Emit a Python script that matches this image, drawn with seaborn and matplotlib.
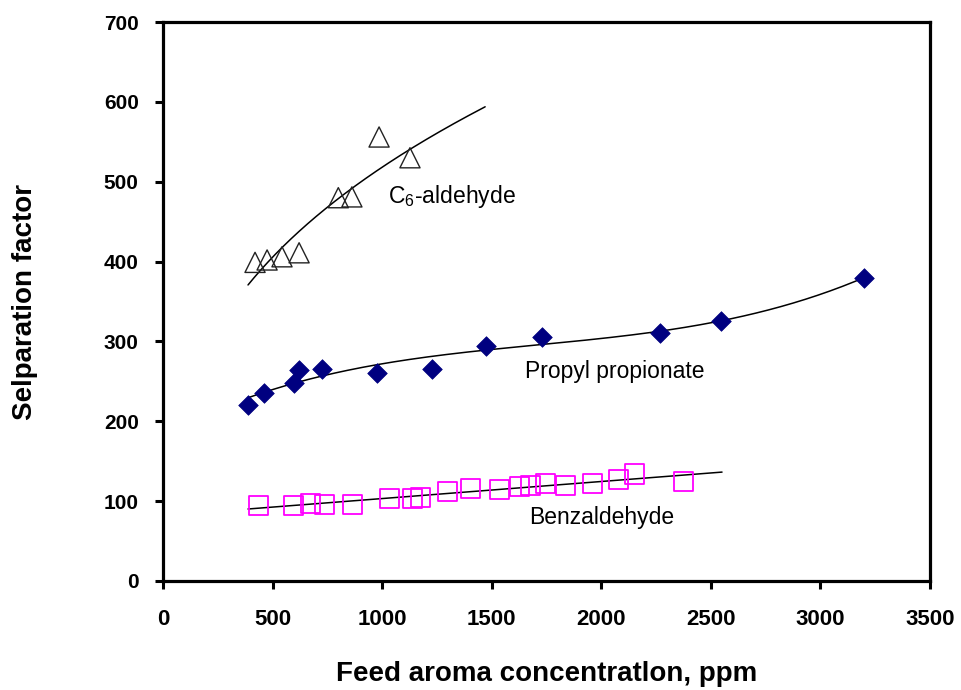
import numpy as np
import pandas as pd
import matplotlib
matplotlib.use("Agg")
import matplotlib.pyplot as plt
import seaborn as sns

# ---- data ----
c6_x = [420, 475, 543, 621, 800, 862, 986, 1127]
c6_y = [399, 402, 406, 411, 480, 481, 556, 530]

pp_x = [389, 463, 598, 622, 725, 976, 1227, 1473, 1731, 2268, 2547, 3200]
pp_y = [220, 236, 248, 264, 266, 261, 266, 294, 305, 310, 326, 380]

bz_x = [435, 595, 672, 737, 864, 1033, 1140, 1173, 1300, 1401, 1534,
        1626, 1675, 1744, 1835, 1958, 2078, 2150, 2374]
bz_y = [94, 94, 97, 96, 96, 103, 103, 105, 112, 116, 115,
        118, 119, 122, 120, 122, 127, 134, 125]

# trend-line x ranges (Excel-style trendlines with forecast)
c6_range = (388, 1470)
pp_range = (389, 3200)
bz_range = (388, 2551)

x_ticks = [0, 500, 1000, 1500, 2000, 2500, 3000, 3500]
y_ticks = [0, 100, 200, 300, 400, 500, 600, 700]

sns.set_theme(style="white")
plt.rcParams['font.family'] = ['Liberation Sans', 'DejaVu Sans']
plt.rcParams['mathtext.fontset'] = 'custom'
plt.rcParams['mathtext.rm'] = 'Liberation Sans'
plt.rcParams['mathtext.it'] = 'Liberation Sans'
for k in ['text.color', 'axes.labelcolor', 'xtick.color', 'ytick.color', 'axes.edgecolor']:
    plt.rcParams[k] = 'black'

fig = plt.figure(figsize=(9.61, 6.90), dpi=100)
ax = fig.add_axes([163/961, 1 - 581/690, (930-163)/961, (581-22)/690])

# ---- trend lines (fits computed from the data) ----
# power fit for C6-aldehyde
p_c6 = np.polyfit(np.log(c6_x), np.log(c6_y), 1)
xx = np.linspace(*c6_range, 200)
df_c6 = pd.DataFrame({"x": xx, "y": np.exp(np.polyval(p_c6, np.log(xx)))})
sns.lineplot(data=df_c6, x="x", y="y", ax=ax, color="black", lw=1.1)

# cubic polynomial fit for propyl propionate
p_pp = np.polyfit(pp_x, pp_y, 3)
xx = np.linspace(*pp_range, 200)
df_pp = pd.DataFrame({"x": xx, "y": np.polyval(p_pp, xx)})
sns.lineplot(data=df_pp, x="x", y="y", ax=ax, color="black", lw=1.1)

# linear fit for benzaldehyde
p_bz = np.polyfit(bz_x, bz_y, 1)
xx = np.linspace(*bz_range, 200)
df_bz = pd.DataFrame({"x": xx, "y": np.polyval(p_bz, xx)})
sns.lineplot(data=df_bz, x="x", y="y", ax=ax, color="black", lw=1.1)

# ---- markers ----
sns.scatterplot(x=c6_x, y=c6_y, ax=ax, marker="^", s=14.5**2,
                facecolor="none", edgecolor="#222222", linewidth=1.0, zorder=3)
sns.scatterplot(x=pp_x, y=pp_y, ax=ax, marker="D", s=10**2,
                color="#000080", edgecolor="#000080", linewidth=0.5, zorder=3)
sns.scatterplot(x=bz_x, y=bz_y, ax=ax, marker="s", s=13.7**2,
                facecolor="none", edgecolor="#FF00FF", linewidth=1.3, zorder=3)

# ---- annotations ----
ax.text(1027, 481, "C$_6$-aldehyde", fontsize=16.5, ha="left", va="center")
ax.text(1652, 262, "Propyl propionate", fontsize=16.5, ha="left", va="center")
ax.text(1670, 79, "Benzaldehyde", fontsize=16.5, ha="left", va="center")

# ---- axes styling ----
ax.set_xlim(0, 3500)
ax.set_ylim(0, 700)
ax.set_xticks(x_ticks)
ax.set_yticks(y_ticks)
ax.set_xticklabels([str(v) for v in x_ticks], fontsize=16, fontweight="bold")
ax.set_yticklabels([str(v) for v in y_ticks], fontsize=15, fontweight="bold")
ax.tick_params(axis="both", direction="out", length=5.5, width=2.2, colors="black",
               bottom=True, left=True)
ax.tick_params(axis="x", pad=15)
ax.tick_params(axis="y", pad=12)
for s in ax.spines.values():
    s.set_visible(True)
    s.set_color("black")
    s.set_linewidth(2.3)

ax.set_xlabel("Feed aroma concentratlon, ppm", fontsize=20, fontweight="bold", va="center")
ax.set_ylabel("Selparation factor", fontsize=20, fontweight="bold", va="center")
ax.xaxis.set_label_coords(0.5, -0.166)
ax.yaxis.set_label_coords(-0.180, 0.5)
ax.grid(False)

fig.savefig("out.png", dpi=100, facecolor="white")
